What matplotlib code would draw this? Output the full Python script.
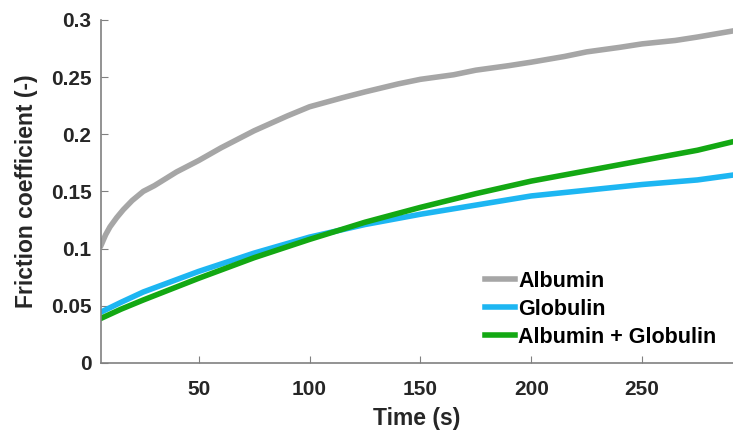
import matplotlib.pyplot as plt
from matplotlib.ticker import FuncFormatter

plt.rcParams['font.family'] = ['Liberation Sans', 'DejaVu Sans']
plt.rcParams['font.weight'] = 'bold'

# time (s)
t_alb = [6, 8, 10, 13, 16, 20, 25, 30, 35, 40, 50, 60, 75, 90, 100, 115, 125, 140,
         150, 165, 175, 190, 200, 215, 225, 240, 250, 265, 275, 290]
albumin = [0.103, 0.112, 0.119, 0.127, 0.134, 0.142, 0.150, 0.155, 0.161, 0.167,
           0.177, 0.188, 0.203, 0.216, 0.224, 0.232, 0.237, 0.244, 0.248, 0.252,
           0.256, 0.260, 0.263, 0.268, 0.272, 0.276, 0.279, 0.282, 0.285, 0.290]

t_glob = [6, 15, 25, 50, 75, 100, 125, 150, 175, 200, 225, 250, 275, 290]
globulin = [0.0445, 0.053, 0.062, 0.080, 0.096, 0.110, 0.121, 0.130, 0.138, 0.146,
            0.151, 0.156, 0.160, 0.164]

t_mix = [6, 15, 25, 50, 75, 100, 125, 150, 175, 200, 225, 250, 275, 290]
mixture = [0.039, 0.047, 0.055, 0.074, 0.092, 0.108, 0.123, 0.136, 0.148, 0.159,
           0.168, 0.177, 0.186, 0.193]

fig = plt.figure(figsize=(7.33, 4.32), dpi=100)
ax = fig.add_axes([0.138, 0.16, 0.862, 0.794])

ax.plot(t_alb, albumin, color='#a6a6a6', linewidth=4, label='Albumin')
ax.plot(t_glob, globulin, color='#1db6f2', linewidth=4, label='Globulin')
ax.plot(t_mix, mixture, color='#13a813', linewidth=4, label='Albumin + Globulin')

ax.set_xlim(6, 291)
ax.set_ylim(0, 0.3)
ax.set_xticks([50, 100, 150, 200, 250])
ax.set_yticks([0, 0.05, 0.1, 0.15, 0.2, 0.25, 0.3])
ax.yaxis.set_major_formatter(FuncFormatter(lambda v, p: '%g' % v))

for s in ['top', 'right']:
    ax.spines[s].set_visible(False)
for s in ['left', 'bottom']:
    ax.spines[s].set_color('#808080')
    ax.spines[s].set_linewidth(1.2)

ax.tick_params(direction='in', length=5, color='#808080', labelsize=15,
               labelcolor='#262626', pad=7)
ax.tick_params(axis='x', pad=12)

ax.set_xlabel('Time (s)', fontsize=16.5, fontweight='bold', color='#262626', labelpad=6)
ax.set_ylabel('Friction coefficient (-)', fontsize=16.5, fontweight='bold',
              color='#262626', labelpad=9)

ax.legend(loc='upper left', bbox_to_anchor=(485 / 733, 1 - 271 / 432),
          bbox_transform=fig.transFigure, frameon=False,
          handlelength=1.4, handletextpad=0.15, labelspacing=0.32,
          borderpad=0, borderaxespad=0,
          prop={'weight': 'bold', 'size': 15.5})

plt.savefig('out.png', dpi=100)
